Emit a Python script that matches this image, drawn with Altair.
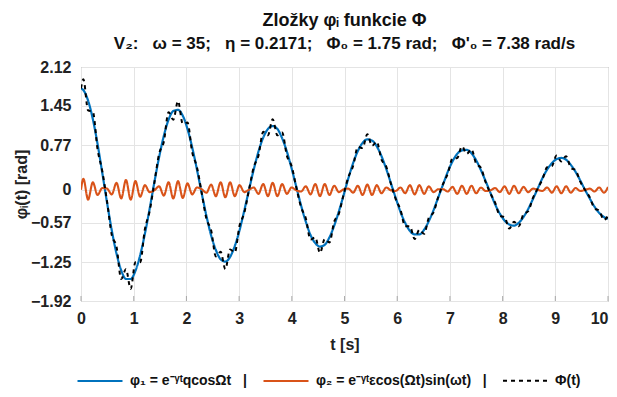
import altair as alt
import pandas as pd

FONT = "Liberation Sans"

# ---- axis ticks ----
x_ticks = [0, 1, 2, 3, 4, 5, 6, 7, 8, 9, 10]
y_ticks = [2.12, 1.45, 0.77, 0, -0.57, -1.25, -1.92]

# ---- series labels / styles ----
series_names = [
    "φ₁ = e⁻ᵞᵗqcosΩt\u00a0\u00a0\u00a0|",
    "φ₂ = e⁻ᵞᵗεcos(Ωt)sin(ωt)\u00a0\u00a0\u00a0|",
    "Φ(t)",
]
series_colors = ["#0072BD", "#D95319", "#000000"]
series_dash = [[1, 0], [1, 0], [4, 4]]
series_width = [2.2, 2.0, 1.0]

# ---- sampling instants (start, peaks of the fast oscillation, end) ----
t_start = 0.0
t_end = 10.0
t_first = 0.0449
t_step = 0.0898
n_samples = 111

# phi_1 read at the sampling instants
phi1_start = 1.75
phi1_end = -0.50
phi1_vals = [
    1.72, 1.54, 1.22, 0.79, 0.29, -0.22, -0.70, -1.10, -1.39, -1.54,
    -1.54, -1.40, -1.13, -0.76, -0.33, 0.13, 0.56, 0.93, 1.21, 1.36,
    1.38, 1.28, 1.05, 0.73, 0.35, -0.06, -0.45, -0.79, -1.04, -1.20,
    -1.24, -1.16, -0.97, -0.70, -0.36, 0.00, 0.35, 0.66, 0.90, 1.05,
    1.10, 1.05, 0.89, 0.66, 0.37, 0.05, -0.27, -0.55, -0.78, -0.92,
    -0.98, -0.95, -0.82, -0.62, -0.37, -0.09, 0.20, 0.46, 0.67, 0.81,
    0.87, 0.85, 0.75, 0.58, 0.36, 0.11, -0.14, -0.38, -0.57, -0.71,
    -0.77, -0.77, -0.69, -0.54, -0.35, -0.13, 0.09, 0.31, 0.49, 0.62,
    0.68, 0.69, 0.63, 0.51, 0.34, 0.15, -0.05, -0.25, -0.41, -0.53,
    -0.60, -0.62, -0.57, -0.47, -0.33, -0.16, 0.02, 0.20, 0.35, 0.46,
    0.53, 0.55, 0.52, 0.43, 0.31, 0.16, 0.00, -0.15, -0.29, -0.40,
    -0.47,
]

# phi_2 read at the same instants
phi2_start = 0.0
phi2_end = 0.05
phi2_vals = [
    0.19, -0.17, 0.13, -0.09, 0.03, 0.02, -0.08, 0.12, -0.15, 0.17,
    -0.17, 0.15, -0.12, 0.08, -0.04, -0.01, 0.06, -0.10, 0.13, -0.15,
    0.15, -0.14, 0.11, -0.08, 0.04, 0.01, -0.05, 0.09, -0.11, 0.13,
    -0.13, 0.13, -0.11, 0.08, -0.04, 0.00, 0.04, -0.07, 0.10, -0.11,
    0.12, -0.11, 0.10, -0.07, 0.04, -0.01, -0.03, 0.06, -0.08, 0.10,
    -0.11, 0.10, -0.09, 0.07, -0.04, 0.01, 0.02, -0.05, 0.07, -0.09,
    0.09, -0.09, 0.08, -0.06, 0.04, -0.01, -0.02, 0.04, -0.06, 0.08,
    -0.08, 0.08, -0.07, 0.06, -0.04, 0.01, 0.01, -0.03, 0.05, -0.07,
    0.07, -0.07, 0.07, -0.06, 0.04, -0.02, -0.01, 0.03, -0.04, 0.06,
    -0.07, 0.07, -0.06, 0.05, -0.04, 0.02, 0.00, -0.02, 0.04, -0.05,
    0.06, -0.06, 0.06, -0.05, 0.03, -0.02, 0.00, 0.02, -0.03, 0.04,
    -0.05,
]

# ---- build the tables ----
times = [t_start] + [round(t_first + t_step * k, 4) for k in range(n_samples)] + [t_end]
p1 = [phi1_start] + phi1_vals + [phi1_end]
p2 = [phi2_start] + phi2_vals + [phi2_end]
rows = []
for t, a, b in zip(times, p1, p2):
    rows.append({"t": t, "v": a, "series": series_names[0]})
    rows.append({"t": t, "v": b, "series": series_names[1]})
    rows.append({"t": t, "v": a + b, "series": series_names[2]})
df = pd.DataFrame(rows)

tick_df = pd.DataFrame({"t": x_ticks, "v": [y_ticks[-1]] * len(x_ticks)})

x_scale = alt.Scale(domain=[0, 10], nice=False, zero=False)
y_scale = alt.Scale(domain=[-1.92, 2.12], nice=False, zero=False)

x_enc = alt.X(
    "t:Q",
    scale=x_scale,
    axis=alt.Axis(
        values=x_ticks, title="t [s]", format="d", labelFlush=False,
        labelAlign={"expr": "datum.value == 10 ? 'right' : 'center'"},
        labelFont=FONT, labelFontSize=16, labelFontWeight="bold", labelColor="#222222",
        titleFont=FONT, titleFontSize=16, titleFontWeight="bold", titleColor="#222222",
        tickSize=0, labelPadding=9, titlePadding=10, domain=False, labelOverlap=False,
        grid=True, gridColor="#e4e4e4", gridWidth=1,
    ),
)
y_enc = alt.Y(
    "v:Q",
    scale=y_scale,
    axis=alt.Axis(
        values=y_ticks, title="φᵢ(t) [rad]", labelFlush=False,
        labelExpr="datum.value == 0 ? '0' : format(datum.value, '.2f')",
        labelFont=FONT, labelFontSize=16, labelFontWeight="bold", labelColor="#222222",
        titleFont=FONT, titleFontSize=16, titleFontWeight="bold", titleColor="#222222",
        tickSize=0, labelPadding=10, titleX=-52, titleY=117, domain=False, labelOverlap=False,
        grid=True, gridColor="#e4e4e4", gridWidth=1,
    ),
)
legend = alt.Legend(
    title=None, orient="none", legendX=-5, legendY=290, direction="horizontal",
    symbolType="stroke", symbolSize=2025, symbolStrokeWidth=2,
    labelFont=FONT, labelFontSize=14, labelFontWeight="bold", labelColor="#111111",
    labelOffset=6, columnPadding=12, labelLimit=500,
)
color_enc = alt.Color(
    "series:N", scale=alt.Scale(domain=series_names, range=series_colors), legend=legend
)
dash_enc = alt.StrokeDash(
    "series:N", scale=alt.Scale(domain=series_names, range=series_dash), legend=legend
)
width_enc = alt.StrokeWidth(
    "series:N", scale=alt.Scale(domain=series_names, range=series_width), legend=legend
)

# small inward ticks on the bottom edge (MATLAB style)
ticks = (
    alt.Chart(tick_df)
    .mark_tick(orient="vertical", size=5, thickness=1, color="#8a8a8a", yOffset=-2.5)
    .encode(x=x_enc, y=y_enc)
)

layers = [ticks]
for name in series_names:
    layers.append(
        alt.Chart(df)
        .transform_filter(alt.FieldEqualPredicate(field="series", equal=name))
        .mark_line(interpolate="monotone", clip=True)
        .encode(x=x_enc, y=y_enc, color=color_enc, strokeDash=dash_enc, strokeWidth=width_enc)
    )

chart = (
    alt.layer(*layers)
    .properties(
        width=527,
        height=234,
        autosize=alt.AutoSizeParams(type="none"),
        padding={"left": 73, "top": 59, "right": 1, "bottom": 87},
        title=alt.TitleParams(
            text="Zložky φᵢ funkcie Φ",
            subtitle="V₂:\u00a0\u00a0 ω = 35;\u00a0\u00a0 η = 0.2171;\u00a0\u00a0 Φ₀ = 1.75 rad;\u00a0\u00a0 Φ'₀ = 7.38 rad/s",
            font=FONT, fontSize=18, fontWeight="bold", color="#111111",
            subtitleFont=FONT, subtitleFontSize=17, subtitleFontWeight="bold",
            subtitleColor="#111111", anchor="middle", offset=7, subtitlePadding=6,
        ),
    )
    .configure_view(stroke="#8a8a8a", strokeWidth=1)
)

chart.save("out.html", embed_options={"renderer": "svg", "actions": False})
